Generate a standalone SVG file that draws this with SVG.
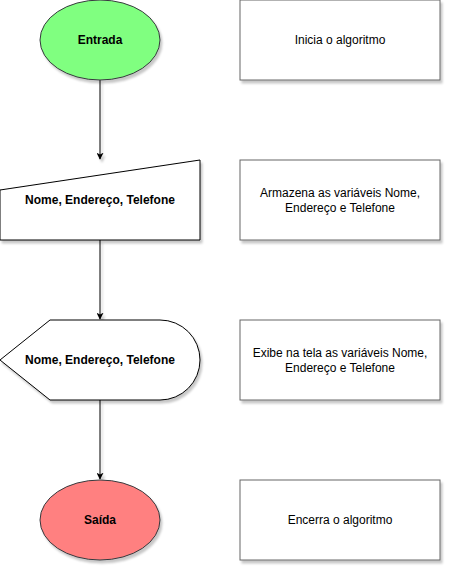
<svg xmlns="http://www.w3.org/2000/svg" width="452" height="572" viewBox="0 0 452 572">
<style>
.sh{filter:url(#shadow)}
.lsh{filter:url(#lshadow)}
.lbl{font-family:"Liberation Sans",Arial,sans-serif;font-size:12px;fill:#000;text-anchor:middle}
.b{font-weight:bold}
.box{fill:#fff;stroke:#666;stroke-width:1}
.shape{fill:#fff;stroke:#000;stroke-width:1}
.conn{stroke:#000;stroke-width:1;fill:none}
</style>
<defs>
<filter id="shadow" x="-10%" y="-10%" width="130%" height="130%">
<feDropShadow dx="2" dy="3" stdDeviation="1.2" flood-color="#000" flood-opacity="0.22"/>
</filter>
<filter id="lshadow" filterUnits="userSpaceOnUse" x="0" y="0" width="452" height="572">
<feDropShadow dx="2" dy="3" stdDeviation="1.2" flood-color="#000" flood-opacity="0.22"/>
</filter>
<marker id="arr" viewBox="0 0 10 10" refX="9" refY="5" markerWidth="7" markerHeight="7" orient="auto" markerUnits="userSpaceOnUse">
<path d="M0,0 L10,5 L0,10 L2.5,5 Z" fill="#000"/>
</marker>
</defs>
<g id="connectors" class="lsh">
<path class="conn" d="M100,80 L100,159" marker-end="url(#arr)"/>
<path class="conn" d="M100,240 L100,319" marker-end="url(#arr)"/>
<path class="conn" d="M100,400 L100,479" marker-end="url(#arr)"/>
</g>
<g id="entrada">
<ellipse class="sh" cx="100" cy="40" rx="60" ry="40" fill="#80ff80" stroke="#36393d"/>
<text class="lbl b" x="100" y="44">Entrada</text>
</g>
<g id="entrada-dados">
<path class="shape sh" d="M0,190 L200,160 L200,240 L0,240 Z"/>
<text class="lbl b" x="100" y="204">Nome, Endereço, Telefone</text>
</g>
<g id="exibir">
<path class="shape sh" d="M0,360 L50,320 L160,320 A40,40 0 0 1 160,400 L50,400 Z"/>
<text class="lbl b" x="100" y="364">Nome, Endereço, Telefone</text>
</g>
<g id="saida">
<ellipse class="sh" cx="100" cy="520" rx="60" ry="40" fill="#ff8080" stroke="#36393d"/>
<text class="lbl b" x="100" y="524">Saída</text>
</g>
<g id="nota1">
<rect class="box sh" x="240" y="0" width="200" height="80"/>
<text class="lbl" x="340" y="44">Inicia o algoritmo</text>
</g>
<g id="nota2">
<rect class="box sh" x="240" y="160" width="200" height="80"/>
<text class="lbl" x="340" y="197">Armazena as variáveis Nome,</text>
<text class="lbl" x="340" y="212">Endereço e Telefone</text>
</g>
<g id="nota3">
<rect class="box sh" x="240" y="320" width="200" height="80"/>
<text class="lbl" x="340" y="357">Exibe na tela as variáveis Nome,</text>
<text class="lbl" x="340" y="372">Endereço e Telefone</text>
</g>
<g id="nota4">
<rect class="box sh" x="240" y="480" width="200" height="80"/>
<text class="lbl" x="340" y="524">Encerra o algoritmo</text>
</g>
</svg>
